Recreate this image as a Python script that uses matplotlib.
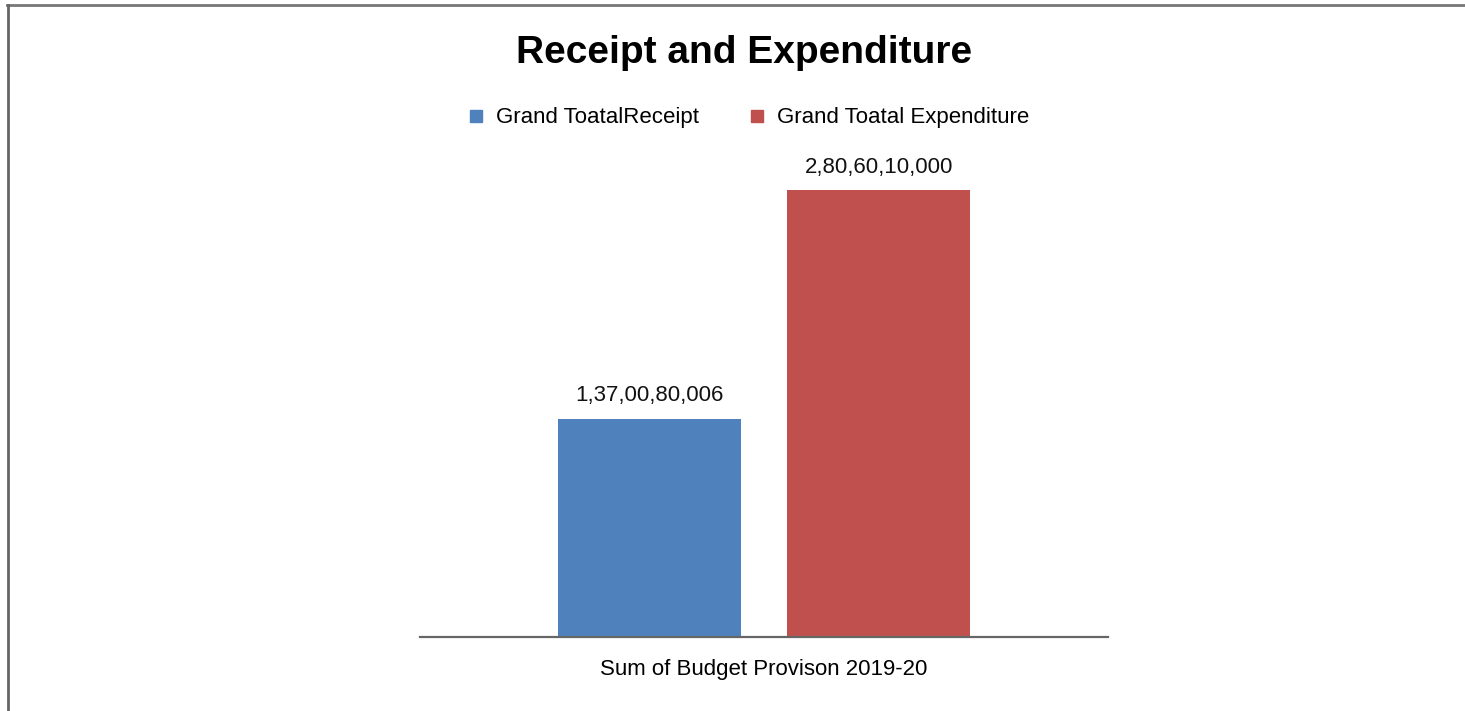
import matplotlib
matplotlib.use("Agg")
import matplotlib.pyplot as plt
from matplotlib.lines import Line2D

# Budget provision 2019-20, grand totals
series = ["Grand ToatalReceipt", "Grand Toatal Expenditure"]
values = [1370080006, 2806010000]
colors = ["#4F81BD", "#C0504D"]
category = "Sum of Budget Provison 2019-20"

FONT = ["Liberation Sans Narrow", "Liberation Sans", "DejaVu Sans"]
plt.rcParams["font.family"] = FONT

W, H = 1465, 711


def fmt_indian(n):
    """Group digits the lakh/crore way: 1,37,00,80,006."""
    s = str(n)
    head, tail = s[:-3], s[-3:]
    groups = []
    while len(head) > 2:
        groups.insert(0, head[-2:])
        head = head[:-2]
    if head:
        groups.insert(0, head)
    return ",".join(groups + [tail])


fig = plt.figure(figsize=(W / 100, H / 100), dpi=100)
ax = fig.add_axes([420 / W, 1 - 637 / H, 688 / W, 487 / H])

xs = [1, 2]
bars = ax.bar(xs, values, width=0.8, color=colors, zorder=2)
ax.set_xlim(0, 3)
ax.set_ylim(0, max(values) * 487 / 447)

for b, v in zip(bars, values):
    ax.annotate(fmt_indian(v), (b.get_x() + b.get_width() / 2, v),
                xytext=(0, 9), textcoords="offset points",
                ha="center", va="bottom", fontsize=16, color="#111111")

for side in ["top", "right", "left"]:
    ax.spines[side].set_visible(False)
ax.spines["bottom"].set_color("#666666")
ax.spines["bottom"].set_linewidth(1.6)
ax.set_yticks([])
ax.set_xticks([1.5])
ax.set_xticklabels([category], fontsize=16)
ax.tick_params(axis="x", length=0, pad=16)

fig.text(744 / W, 1 - 53 / H, "Receipt and Expenditure", ha="center",
         va="center", fontsize=28, fontweight="bold")

handles = [Line2D([], [], marker="s", linestyle="none", markersize=8.5,
                  markerfacecolor=c, markeredgecolor=c) for c in colors]
fig.legend(handles, series, loc="center", ncol=2, frameon=False,
           bbox_to_anchor=(748 / W, 1 - 118 / H), fontsize=16,
           handlelength=0.8, handletextpad=0.5, columnspacing=2.2)

# outer chart frame: top and left edges only
fig.add_artist(Line2D([7 / W, 1], [1 - 5 / H, 1 - 5 / H], color="#777777",
                      linewidth=2, transform=fig.transFigure))
fig.add_artist(Line2D([7.5 / W, 7.5 / W], [0, 1 - 5 / H], color="#666666",
                      linewidth=2, transform=fig.transFigure))

fig.savefig("out.png", dpi=100)
